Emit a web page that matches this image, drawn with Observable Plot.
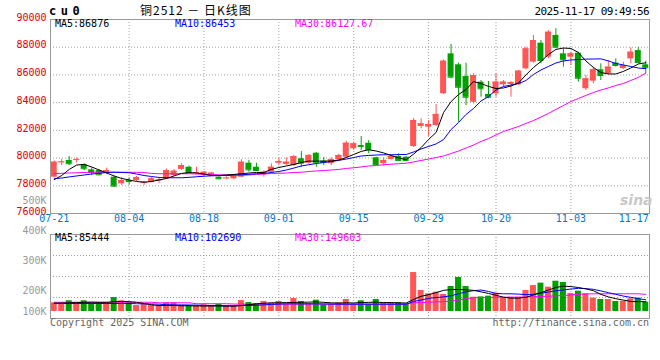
<!DOCTYPE html>
<html><head><meta charset="utf-8">
<script src="https://cdn.jsdelivr.net/npm/d3@7"></script>
<script src="https://cdn.jsdelivr.net/npm/@observablehq/plot@0.6"></script>
<style>
body{margin:0;background:#fff;}
#wrap{position:relative;width:660px;height:360px;background:#fff;overflow:hidden;font-family:"DejaVu Sans Mono",monospace;font-size:10px;}
#wrap svg{position:absolute;left:0;top:0;}
.t{position:absolute;white-space:nowrap;line-height:10px;font-size:10px;}
</style></head><body><div id="wrap"></div>
<script>
// ---------- data ----------
const open = [78620,79680,79830,79880,79520,79150,79100,78910,78620,78140,
 78380,78380,78190,78260,78360,78500,78740,79180,79340,78940,
 78740,78740,78620,78540,78500,78620,79630,79340,78790,78980,
 79630,79540,79460,79950,79630,80350,79780,79590,79880,80060,
 80670,80910,81070,80020,79590,79900,80110,80060,80830,82280,
 82230,82350,84640,87520,86730,85890,84030,85480,84590,84640,
 85290,85310,85290,86440,86920,88290,87280,88850,87520,87280,
 87570,85000,85550,86370,86080,86850,86460,87160,87760,86730];
const high = [79790,79900,80110,80020,79590,79300,79150,79270,78690,78580,
 78580,78670,78310,78600,78550,79200,79180,79590,79430,79340,
 79030,78960,78670,78640,78790,79880,79830,79630,79100,79590,
 79990,80020,80190,80470,80260,80400,80050,80020,80280,81220,
 81150,81560,81270,80060,80020,80190,80310,80110,82860,82830,
 82710,83870,87090,88200,86850,86850,86080,85600,85530,86080,
 85600,85530,86320,88000,88850,88480,89200,89330,87890,87640,
 87640,85960,86560,86800,87040,87160,86920,87950,87980,86990];
const low = [78560,79460,79460,79660,79100,78740,78740,78820,77900,78020,
 78070,78310,78020,78200,78190,78450,78670,79100,78870,78820,
 78670,78670,78450,78450,78450,78600,78980,79030,78620,78870,
 79460,79460,79390,79340,79540,79340,79460,79460,79830,80000,
 80550,80550,80310,79460,79410,79860,79780,79750,80760,82110,
 81560,82280,84590,85720,82590,83790,83920,84390,84280,84390,
 85110,84390,85240,86370,86850,86800,87160,87890,86560,86680,
 85480,84880,85360,85600,86010,86560,86390,86800,86800,86080];
const close = [79700,79720,79590,79900,79230,78960,78790,79100,77970,78380,
 78310,78580,78260,78500,78420,79100,79050,79460,78910,78960,
 78980,78910,78500,78560,78670,79700,79150,79100,78980,79340,
 79750,79700,80110,79630,80190,79660,79680,79880,80190,81070,
 81030,80840,80600,79540,79830,80110,79830,79830,82710,82470,
 82420,83150,86990,85840,85110,84390,85960,85000,84390,85480,
 85480,85450,86270,87880,88480,87040,89080,88000,87090,87520,
 85760,85720,86370,85960,86560,86680,86680,87640,86900,86520];
const ma5 = [78450,78740,79180,79500,79540,79360,79140,78920,78710,78530,
 78420,78310,78260,78310,78420,78530,78710,78890,78960,78920,
 78850,78740,78740,78780,78820,78870,78920,78960,78960,79180,
 79320,79430,79540,79680,79780,79780,79780,79790,79860,80040,
 80260,80480,80600,80510,80370,80190,80010,79880,80290,80760,
 81340,81850,83290,84080,84590,84950,85520,85380,85170,85020,
 85060,85200,85420,86000,86540,86970,87470,87840,87940,87910,
 87620,87010,86540,86180,86070,86070,86250,86500,86790,86876];
const ma10 = [78510,78560,78640,78710,78780,78850,78900,78960,78980,78960,
 78940,78850,78740,78670,78600,78580,78580,78580,78610,78650,
 78690,78720,78740,78740,78770,78800,78830,78870,78890,78960,
 79030,79140,79280,79430,79520,79610,79680,79750,79830,79930,
 80040,80150,80190,80220,80240,80240,80250,80260,80440,80660,
 80840,81020,81340,82060,82570,83150,83580,84120,84440,84910,
 85170,85270,85380,85600,86030,86360,86610,86860,87010,87080,
 87110,87140,87150,87160,87010,86830,86720,86610,86500,86453];
const ma30 = [78870,78900,78920,78940,78960,78970,78980,78980,78980,78980,
 78980,78970,78960,78890,78870,78870,78870,78870,78870,78850,
 78830,78820,78790,78790,78780,78760,78780,78820,78850,78890,
 78900,78920,78960,78980,79030,79070,79100,79140,79180,79250,
 79300,79360,79430,79460,79520,79560,79590,79630,79720,79830,
 79930,80040,80150,80330,80510,80730,80940,81200,81410,81670,
 81920,82100,82280,82500,82710,82960,83220,83510,83790,84080,
 84300,84520,84730,84910,85060,85240,85380,85600,85820,86127.67];
// volume in thousands of lots
const volumeK = [76,76,94,73,94,76,76,76,122,94,
 76,52,61,58,52,76,76,52,52,52,
 58,52,61,52,44,96,78,70,88,73,
 88,64,114,88,70,99,58,64,76,105,
 64,94,64,105,76,76,76,64,341,184,
 155,169,149,219,298,219,125,128,134,160,
 120,125,125,184,227,248,213,265,254,157,
 178,155,117,105,105,88,90,111,117,82];
const volMa5K = [73,74,76,78,80,82,80,80,85,88,
 86,80,70,58,52,52,52,50,50,48,
 48,48,48,47,47,52,60,66,72,76,
 76,78,80,80,82,84,80,76,74,76,
 75,78,80,82,78,78,76,74,105,133,
 147,165,185,192,192,190,185,172,158,142,
 125,117,117,124,145,165,188,210,222,218,
 210,198,182,150,128,112,100,88,86,85.444];
const volMa10K = [70,70,70,70,70,70,70,70,70,70,
 70,68,67,66,64,60,58,58,57,56,
 54,52,51,50,50,52,53,54,58,62,
 65,67,67,67,67,67,66,65,64,64,
 64,64,64,64,64,64,64,64,88,100,
 115,122,128,138,155,172,182,188,175,158,
 155,155,152,148,150,160,170,182,189,196,
 203,200,194,180,165,150,135,124,112,102.69];
const volMa30K = [81,81,81,81,81,81,81,81,81,81,
 81,81,81,81,76,76,76,76,76,68,
 68,68,68,68,65,65,65,65,65,65,
 65,65,65,65,65,65,65,64,64,64,
 64,64,64,64,64,64,64,64,76,78,
 81,84,87,90,100,112,120,122,123,125,
 125,125,125,127,129,131,134,137,140,145,
 150,153,155,155,155,155,155,155,155,149.603];
const dateTickIdx = [0,10,20,30,40,50,59,69,79];
const dateTickLabels = ["07-21","08-04","08-18","09-01","09-15","09-29","10-20","11-03","11-17"];
const priceTicks = [76000,78000,80000,82000,84000,86000,88000,90000];
const volTickValsK = [500,400,300,200];
const volTickLabels = ["500K","400K","300K","200K"];
const volBottomLabel = "100K";
const priceMaLabels = ["MA5:86876","MA10:86453","MA30:86127.67"];
const volMaLabels = ["MA5:85444","MA10:102690","MA30:149603"];
const symbol = "cu0";
const title = "铜2512 － 日K线图";
const stamp = "2025-11-17 09:49:56";

// ---------- build ----------
const N = open.length;
const bars = d3.range(N);
const rows = bars.map(i => ({i, o:open[i], h:high[i], l:low[i], c:close[i], up: close[i] >= open[i],
  ma5:ma5[i], ma10:ma10[i], ma30:ma30[i], v:volumeK[i], v5:volMa5K[i], v10:volMa10K[i], v30:volMa30K[i]}));
const RED = "#ff5555", GREEN = "#00a000";
const col = d => d.up ? RED : GREEN;
const X = {type:"band", domain:bars, paddingInner:0.2, paddingOuter:0.1, align:0.5, axis:null};
const dotted = {stroke:"#a0a0a0", strokeDasharray:"1,2", strokeWidth:1};
const svgStyle = {background:"transparent", overflow:"visible", fontFamily:'"DejaVu Sans Mono", monospace', fontSize:"10px"};
const gridIdx = dateTickIdx.slice(1, -1);
const dateTicks = dateTickIdx.map((i, k) => ({i, label: dateTickLabels[k]}));
const BLUE_DATE = "#0078d0";

const price = Plot.plot({
  width:660, height:228, marginLeft:50, marginRight:11, marginTop:19, marginBottom:15,
  style:svgStyle, x:X, y:{domain:[76000,90000], axis:null}, color:{type:"identity"},
  marks:[
    Plot.ruleY(priceTicks.slice(1, -1), dotted),
    Plot.ruleX(gridIdx, {x:d => d, ...dotted}),
    Plot.ruleX(rows, {x:"i", y1:"l", y2:"h", stroke:col}),
    Plot.barY(rows, {x:"i", y1:"o", y2:"c", fill:col}),
    Plot.tickY(rows, {x:"i", y:"c", stroke:col}),
    Plot.line(rows, {x:"i", y:"ma30", stroke:"#ff00ff", strokeWidth:1}),
    Plot.line(rows, {x:"i", y:"ma10", stroke:"#0000ff", strokeWidth:1}),
    Plot.line(rows, {x:"i", y:"ma5", stroke:"#000000", strokeWidth:1}),
    Plot.frame({stroke:"#999"}),
    Plot.text(priceTicks, {y:d => d, text:d => String(d), frameAnchor:"left", textAnchor:"end", dx:-4, dy:-2, fill:"#e00000"}),
    Plot.text(dateTicks.slice(0, -1), {x:"i", text:"label", frameAnchor:"bottom", dy:8, fill:BLUE_DATE}),
    Plot.text(dateTicks.slice(-1), {x:"i", text:"label", frameAnchor:"bottom", dy:8, dx:3, textAnchor:"end", fill:BLUE_DATE})
  ]
});

const vDomain = [-61.25, 673.75];
const vGrid = [1,2,3].map(k => vDomain[0] + (vDomain[1]-vDomain[0]) * k / 4);
const vol = Plot.plot({
  width:660, height:360, marginLeft:50, marginRight:11, marginTop:234, marginBottom:42,
  style:svgStyle, x:X, y:{domain:vDomain, axis:null}, color:{type:"identity"},
  marks:[
    Plot.ruleY(vGrid, dotted),
    Plot.ruleX(gridIdx, {x:d => d, ...dotted}),
    Plot.barY(rows, {x:"i", y:"v", fill:col}),
    Plot.line(rows, {x:"i", y:"v30", stroke:"#ff00ff", strokeWidth:1}),
    Plot.line(rows, {x:"i", y:"v10", stroke:"#0000ff", strokeWidth:1}),
    Plot.line(rows, {x:"i", y:"v5", stroke:"#000000", strokeWidth:1}),
    Plot.frame({stroke:"#999"})
  ]
});

// volume axis labels (sina draws them on their own label scale)
const volAxis = Plot.plot({
  width:660, height:360, marginLeft:50, marginRight:11, marginTop:200, marginBottom:70,
  style:svgStyle, x:{domain:[0,1], axis:null}, y:{domain:[200,500], axis:null},
  marks:[
    Plot.text(volTickValsK, {y:d => d, text:(d, k) => volTickLabels[k], frameAnchor:"left", textAnchor:"end", dx:-4, fill:"#999"}),
    Plot.text([100], {y:d => d, text:() => volBottomLabel, frameAnchor:"left", textAnchor:"end", dx:-4, dy:-9, fill:"#999"})
  ]
});

const wrap = document.getElementById("wrap");
wrap.append(price, vol, volAxis);

function addText(txt, css) {
  const d = document.createElement("div");
  d.className = "t";
  d.textContent = txt;
  Object.assign(d.style, css);
  wrap.appendChild(d);
}
addText(symbol, {left:"49px", top:"5px", fontSize:"12px", lineHeight:"12px", fontWeight:"bold", letterSpacing:"4.5px"});
addText(title, {left:"140px", top:"4px", fontSize:"12px", lineHeight:"12px", fontFamily:'"Noto Sans CJK SC", sans-serif', letterSpacing:"1px"});
addText(stamp, {right:"11px", top:"6px", fontSize:"11px", lineHeight:"11px", letterSpacing:"-0.6px"});
const maColors = ["#000000","#0000ff","#ff00ff"];
const maLeft = [55,175,295];
priceMaLabels.forEach((s, k) => addText(s, {left:maLeft[k]+"px", top:"18.5px", color:maColors[k]}));
volMaLabels.forEach((s, k) => addText(s, {left:maLeft[k]+"px", top:"233px", color:maColors[k]}));
addText("Copyright 2025 SINA.COM", {left:"50px", top:"318px", color:"#666"});
addText("http://finance.sina.com.cn", {right:"11px", top:"318px", color:"#666"});
addText("sina", {left:"620px", top:"193px", fontSize:"14px", lineHeight:"14px", fontFamily:'"DejaVu Sans", sans-serif', fontStyle:"italic", fontWeight:"bold", color:"#c8c8c8"});
</script></body></html>
